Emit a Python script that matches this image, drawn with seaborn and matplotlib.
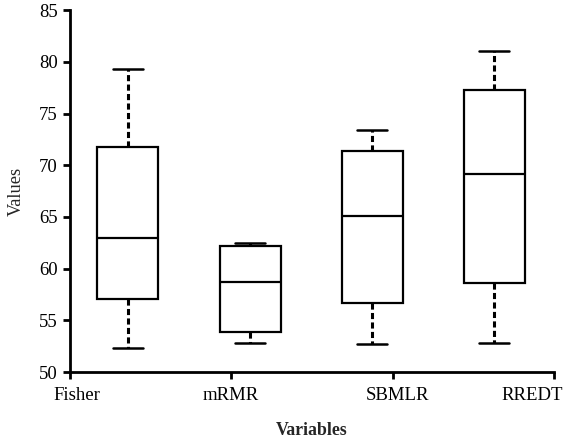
import numpy as np
import pandas as pd
import seaborn as sns
import matplotlib
matplotlib.use("Agg")
import matplotlib.pyplot as plt

categories = ["Fisher", "mRMR", "SBMLR", "RREDT"]
# five-number summaries: min, Q1, median, Q3, max
fisher = [52.35, 57.1, 63.0, 71.8, 79.3]
mrmr = [52.8, 53.9, 58.7, 62.2, 62.45]
sbmlr = [52.7, 56.7, 65.1, 71.4, 73.4]
rredt = [52.8, 58.6, 69.2, 77.3, 81.1]
series = [fisher, mrmr, sbmlr, rredt]

df = pd.DataFrame({
    "Variables": np.repeat(categories, [len(s) for s in series]),
    "Values": np.concatenate(series),
})

sns.set_style("ticks")
plt.rcParams["font.family"] = ["Liberation Serif", "DejaVu Serif"]

fig = plt.figure(figsize=(5.66, 4.4), dpi=100)
L, R, T, B = 70, 554, 10.3, 372
ax = fig.add_axes([L/566, 1-B/440, (R-L)/566, (B-T)/440])

sns.boxplot(data=df, x="Variables", y="Values", ax=ax, whis=(0, 100),
            width=0.5, color="white", linecolor="black", linewidth=1.6,
            fliersize=0,
            whiskerprops=dict(linestyle=(0, (2, 1.1)), linewidth=2.2),
            capprops=dict(linewidth=1.8))

ax.set_ylim(50, 85)
ax.set_yticks([50, 55, 60, 65, 70, 75, 80, 85])
x0, x1 = -0.475, 3.49

def px2data(px):
    return x0 + (px - L) / (R - L) * (x1 - x0)

ax.set_xlim(x0, x1)
# tick labels (major, no tick mark) and tick marks (minor, no label)
ax.set_xticks([px2data(p) for p in [77, 231, 397.5, 532.5]])
ax.set_xticklabels(categories)
ax.set_xticks(np.linspace(x0, x1, 4), minor=True)

ax.tick_params(axis="both", labelsize=13.5, width=2, length=5, color="black", labelcolor="black")
ax.tick_params(axis="x", which="major", length=0, pad=11)
ax.tick_params(axis="x", which="minor", length=5, width=2, color="black")
ax.tick_params(axis="y", pad=4)
for s in ["left", "bottom"]:
    ax.spines[s].set_linewidth(2)
    ax.spines[s].set_color("black")
sns.despine(ax=ax)

ax.set_xlabel("Variables", fontsize=12.8, fontweight="bold", labelpad=13)
ax.set_ylabel("Values", fontsize=13.2, labelpad=10)

fig.savefig("out.png", dpi=100)
